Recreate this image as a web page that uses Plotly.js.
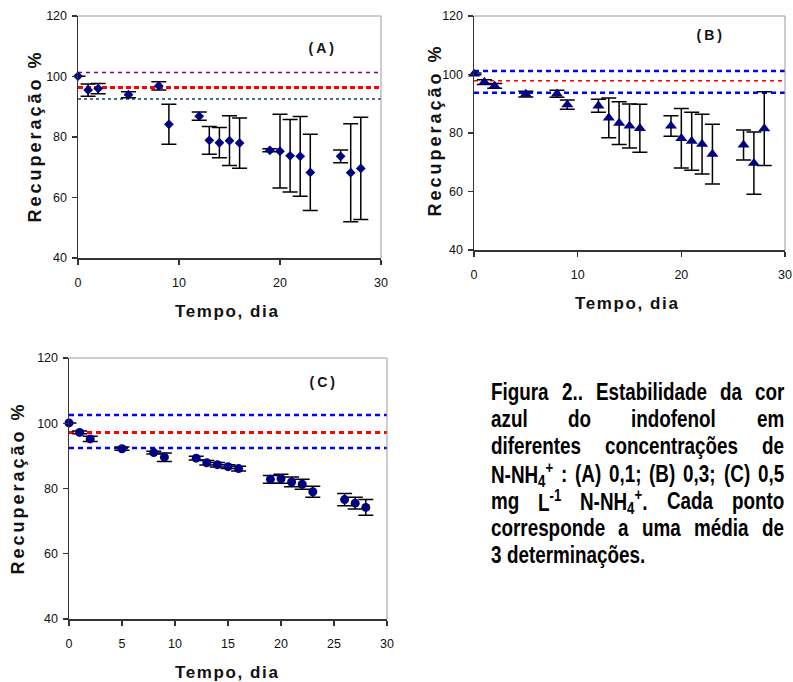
<!DOCTYPE html>
<html><head><meta charset="utf-8">
<script src="https://cdn.plot.ly/plotly-3.0.1.min.js"></script>
<style>html,body{margin:0;padding:0;background:#fff;} #chart{width:793px;height:682px;}</style>
</head><body><div id="chart"></div>
<script>
// ---------------- data ----------------
const days = [0,1,2,5,8,9,12,13,14,15,16,19,20,21,22,23,26,27,28];
const recA = [100.1,95.5,96.0,94.0,96.9,84.2,86.9,78.9,78.1,78.8,78.0,75.6,75.3,73.8,73.6,68.3,73.6,68.2,69.6];
const errA = [0,2.0,1.7,1.0,1.4,6.6,1.4,4.6,5.0,8.2,8.3,0.5,12.2,12.0,13.2,12.6,2.1,16.2,16.9];
const recB = [100.2,97.4,96.1,93.3,93.4,89.7,89.3,85.2,83.4,82.4,81.6,82.4,78.2,77.2,76.2,72.8,75.9,69.7,81.5];
const errB = [0.3,0.8,0.8,1.0,1.2,1.6,2.2,6.8,7.3,7.5,8.2,3.5,10.2,9.9,10.2,10.2,5.1,10.6,12.6];
const recC = [100.1,97.2,95.2,92.2,91.0,89.6,89.3,87.9,87.3,86.7,86.1,82.8,83.0,82.0,81.3,79.0,76.6,75.5,74.2];
const errC = [0,0.4,0.8,0.5,0.4,1.3,0.6,0.7,0.7,0.6,0.7,1.2,1.4,1.5,1.5,1.7,1.9,1.8,2.4];
const refA = [101.3, 96.4, 92.6];
const refB = [101.2, 97.9, 93.8];
const refC = [102.5, 97.2, 92.4];
const panelLabels = ["(A)", "(B)", "(C)"];
const xTitle = "Tempo, dia";
const yTitle = "Recuperação %";
const xTicksAB = [0, 10, 20, 30];
const xTicksC = [0, 5, 10, 15, 20, 25, 30];
const yTicks = [40, 60, 80, 100, 120];
const captionLines = [
  ["Figura", "2..", "Estabilidade", "da", "cor"],
  ["azul", "do", "indofenol", "em"],
  ["diferentes", "concentrações", "de"],
  ["N-NH<sub>4</sub><sup>+</sup>", ":", "(A)", "0,1;", "(B)", "0,3;", "(C)", "0,5"],
  ["mg", "L<sup>-1</sup>", "N-NH<sub>4</sub><sup>+</sup>.", "Cada", "ponto"],
  ["corresponde", "a", "uma", "média", "de"],
  ["3", "determinações."]
];

// ---------------- layout helpers ----------------
const W = 793, H = 682;
const px = x => x / W, py = y => 1 - y / H;
const SANS = "Liberation Sans, Arial, sans-serif";
const NARROW_SCALE = 0.82;   // Arial Narrow ~ 82% of Arial widths

const panels = [
  {xa:'x',  ya:'y',  L:78,  R:381, T:16,  B:258, xt:[227,311], yt:[35,136],  lab:[322,48],  ticks:xTicksAB},
  {xa:'x2', ya:'y2', L:474, R:785, T:16,  B:250, xt:[627,303], yt:[435,130], lab:[710,35],  ticks:xTicksAB},
  {xa:'x3', ya:'y3', L:69,  R:387, T:358, B:619, xt:[227,672], yt:[18,488],  lab:[323,382], ticks:xTicksC}
];
const series = [
  {y:recA, e:errA, symbol:'diamond', size:7.5},
  {y:recB, e:errB, symbol:'triangle-up', size:10.5},
  {y:recC, e:errC, symbol:'circle', size:9}
];
const refs = [refA, refB, refC];
const refStyles = [
  [{color:'#800080', width:1.5, dash:'4px,4px'}, {color:'#ff0000', width:3, dash:'5px,3px'}, {color:'#1f3a6e', width:1.5, dash:'3px,3px'}],
  [{color:'#0000ff', width:2.5, dash:'5px,4px'}, {color:'#ff0000', width:1.5, dash:'4px,4px'}, {color:'#0000ff', width:2.5, dash:'5px,4px'}],
  [{color:'#0000ff', width:2.5, dash:'5px,4px'}, {color:'#ff0000', width:3, dash:'5px,4px'}, {color:'#0000ff', width:2.5, dash:'5px,4px'}]
];

const traces = [];
const shapes = [];
const annotations = [];
const layout = {
  width: W, height: H, margin: {l:0, r:0, t:0, b:0},
  paper_bgcolor: '#fff', plot_bgcolor: '#fff', showlegend: false,
  shapes: shapes, annotations: annotations
};

const axBase = {showgrid:false, zeroline:false, showline:true, linecolor:'#333', linewidth:1.5,
  ticks:'outside', ticklen:5, tickwidth:1.2, tickcolor:'#333', fixedrange:true,
  tickfont:{family:SANS, size:12.5, color:'#111'}};

panels.forEach((p, i) => {
  const xk = p.xa === 'x' ? 'xaxis' : 'xaxis' + p.xa.slice(1);
  const yk = p.ya === 'y' ? 'yaxis' : 'yaxis' + p.ya.slice(1);
  layout[xk] = Object.assign({}, axBase, {domain:[px(p.L), px(p.R)], range:[0,30], anchor:p.ya,
    tickmode:'array', tickvals:p.ticks, ticklabelstandoff:7});
  layout[yk] = Object.assign({}, axBase, {domain:[py(p.B), py(p.T)], range:[40,120], anchor:p.xa,
    tickmode:'array', tickvals:yTicks, ticklabelstandoff:2});
  const s = series[i];
  traces.push({type:'scatter', mode:'markers', x:days, y:s.y, xaxis:p.xa, yaxis:p.ya,
    error_y:{type:'data', array:s.e, visible:true, color:'#000', thickness:1.5, width:7.5},
    marker:{symbol:s.symbol, size:s.size, color:'#000080'}, cliponaxis:false, hoverinfo:'skip'});
  refs[i].forEach((v, j) => {
    shapes.push({type:'line', xref:p.xa + ' domain', yref:p.ya, x0:0, x1:1, y0:v, y1:v,
      layer:'below', line:refStyles[i][j]});
  });
  shapes.push({type:'line', xref:p.xa + ' domain', yref:p.ya + ' domain', x0:0, x1:1, y0:1, y1:1, line:{color:'#9a9a9a', width:1}});
  shapes.push({type:'line', xref:p.xa + ' domain', yref:p.ya + ' domain', x0:1, x1:1, y0:0, y1:1, line:{color:'#9a9a9a', width:1}});
});

// annotations 0-2 panel labels, 3-5 x titles, 6-8 y titles
panels.forEach((p, i) => annotations.push({text:panelLabels[i], xref:'paper', yref:'paper', x:px(p.lab[0]), y:py(p.lab[1]),
  xanchor:'center', yanchor:'middle', showarrow:false, font:{family:SANS, size:14, color:'#111', weight:'bold'}}));
panels.forEach(p => annotations.push({text:xTitle, xref:'paper', yref:'paper', x:px(p.xt[0]), y:py(p.xt[1]),
  xanchor:'center', yanchor:'middle', showarrow:false, font:{family:SANS, size:17, color:'#111', weight:'bold'}}));
panels.forEach(p => annotations.push({text:yTitle, xref:'paper', yref:'paper', x:px(p.yt[0]), y:py(p.yt[1]),
  xanchor:'center', yanchor:'middle', textangle:-90, showarrow:false, font:{family:SANS, size:18, color:'#111', weight:'bold'}}));

// styles: letter spacing for chart labels, horizontal condensing for the caption
const st = document.createElement('style');
let css = 'g.annotation text.annotation-text{transform:scaleX(' + NARROW_SCALE + ');}';
const sp = [3,3,3,1.6,1.6,1.6,3,3,3];
sp.forEach((v, i) => css += `g.annotation[data-index="${i}"] text.annotation-text{transform:none;letter-spacing:${v}px}`);
st.textContent = css;
document.head.appendChild(st);

// caption, justified word by word
const CAP_SIZE = 23, CAP_L = 491, CAP_R = 784, CAP_Y0 = 392, CAP_DY = 27.2;
const ctx = document.createElement('canvas').getContext('2d');
function measure(html) {
  let w = 0, m;
  const re = /<(sub|sup)>(.*?)<\/\1>|([^<]+)/g;
  while ((m = re.exec(html))) {
    if (m[3] !== undefined) { ctx.font = `bold ${CAP_SIZE}px ${SANS}`; w += ctx.measureText(m[3]).width; }
    else { ctx.font = `bold ${CAP_SIZE*0.7}px ${SANS}`; w += ctx.measureText(m[2]).width; }
  }
  return w * NARROW_SCALE;
}
ctx.font = `bold ${CAP_SIZE}px ${SANS}`;
const spaceW = ctx.measureText(' ').width * NARROW_SCALE;
captionLines.forEach((words, li) => {
  const widths = words.map(measure);
  const total = widths.reduce((a, b) => a + b, 0);
  const last = li === captionLines.length - 1;
  const gap = last ? spaceW : (CAP_R - CAP_L - total) / (words.length - 1);
  let x = CAP_L;
  words.forEach((w, k) => {
    annotations.push({text:w, xref:'paper', yref:'paper', x:px(x), y:py(CAP_Y0 + li*CAP_DY),
      xanchor:'left', yanchor:'middle', align:'left', showarrow:false, borderpad:0, borderwidth:0,
      font:{family:SANS, size:CAP_SIZE, color:'#000', weight:'bold'}});
    x += widths[k] + gap;
  });
});

Plotly.newPlot('chart', traces, layout, {displayModeBar:false, staticPlot:true});
</script></body></html>
